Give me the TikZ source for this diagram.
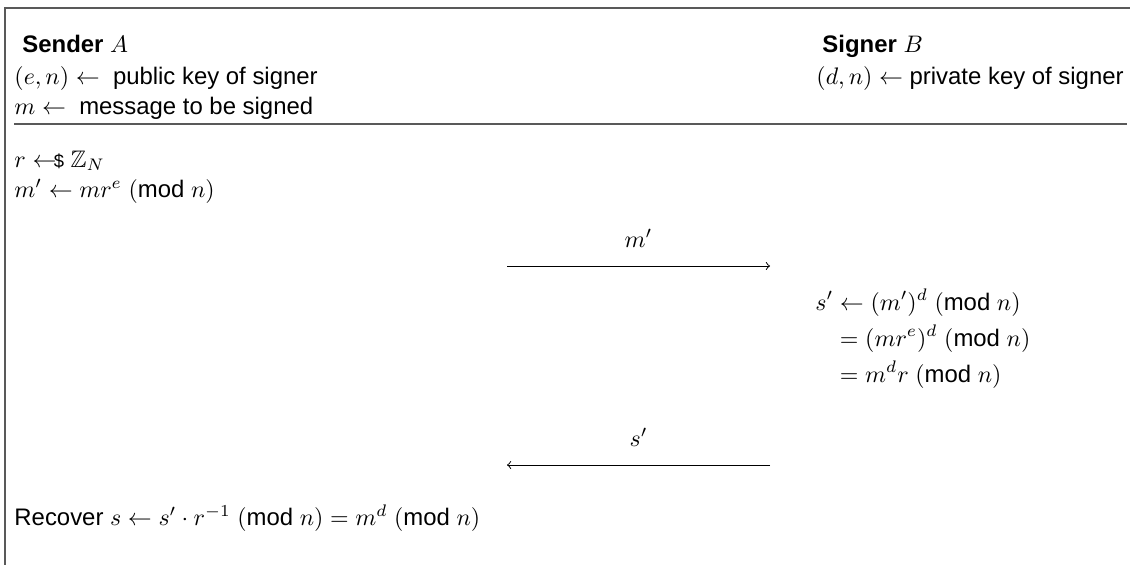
\documentclass[tikz,border=0pt]{standalone}
\usepackage{fix-cm}
\usepackage{amsmath,amssymb}
\usepackage{fontspec}
\setmainfont{Liberation Sans}
\newcommand{\smp}{\mathrel{\leftarrow\mkern-7mu\text{\footnotesize\$}}}
\newcommand{\md}{\text{mod}}
\begin{document}
\begin{tikzpicture}[x=0.435pt,y=-0.435pt,
  every node/.style={font=\fontsize{10.4}{13}\selectfont},
  frame/.style={draw=black!65,line width=0.85pt},
  txt/.style={anchor=base west,inner sep=0pt},
  msg/.style={draw=black,line width=0.4pt,-to},
  lbl/.style={anchor=base,inner sep=0pt}]
\useasboundingbox (0,0) rectangle (1130,565);
\coordinate (tl) at (5,8);
\coordinate (tr) at (1130,8);
\coordinate (bl) at (5,565);
\coordinate (sl) at (14,124);
\coordinate (sr) at (1127,124);
\draw[frame] (tr) -- (tl) -- (bl);
\draw[frame] (sl) -- (sr);
% header
\node[txt] (sender) at (22,52) {\textbf{Sender} $A$};
\node[txt] (pk) at (14,84) {$(e,n)\leftarrow$\ \ public key of signer};
\node[txt] (msgm) at (14,114) {$m\leftarrow$\ \ message to be signed};
\node[txt] (signer) at (822,52) {\textbf{Signer} $B$};
\node[txt] (sk) at (816,84) {$(d,n)\leftarrow$ private key of signer};
% body
\node[txt] (rr) at (14,167) {$r \smp \mathbb{Z}_N$};
\node[txt] (mp) at (14,197) {$m'\leftarrow mr^e$ $(\md\ n)$};
\coordinate (a1s) at (507,266);
\coordinate (a1e) at (770,266);
\draw[msg] (a1s) -- node[above=8pt,inner sep=0pt] (l1) {$m'$} (a1e);
\node[anchor=west,inner sep=0pt] (sig) at (815,340) {\setlength{\jot}{1.4pt}$\begin{aligned}
 s' &\leftarrow (m')^d\ (\md\ n)\\
    &= (mr^e)^d\ (\md\ n)\\
    &= m^d r\ (\md\ n)
 \end{aligned}$};
\coordinate (a2s) at (770,465);
\coordinate (a2e) at (507,465);
\draw[msg] (a2s) -- node[above=8pt,inner sep=0pt] (l2) {$s'$} (a2e);
\node[txt] (rec) at (14,525) {Recover $s\leftarrow s'\cdot r^{-1}$ $(\md\ n) = m^d$ $(\md\ n)$};
\end{tikzpicture}
\end{document}
